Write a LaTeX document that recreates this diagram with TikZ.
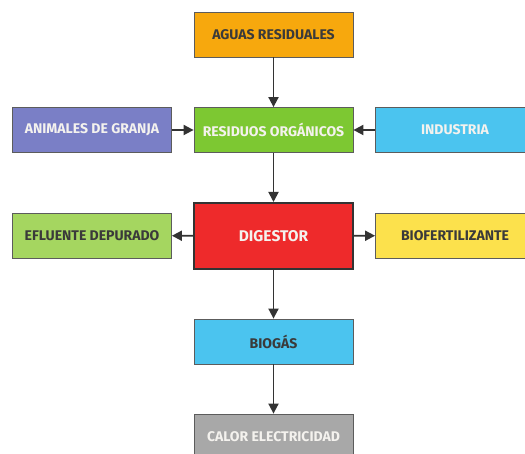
\documentclass[tikz,border=0pt]{standalone}
\usepackage{fontspec}
\setmainfont{Fira Sans}
\usetikzlibrary{arrows.meta}
\definecolor{cOrange}{HTML}{F7A80D}
\definecolor{cGreen}{HTML}{7DC832}
\definecolor{cViolet}{HTML}{7A7FC6}
\definecolor{cSky}{HTML}{4BC4EF}
\definecolor{cLime}{HTML}{A5D660}
\definecolor{cYellow}{HTML}{FCE14C}
\definecolor{cRed}{HTML}{EE2A2B}
\definecolor{cGrey}{HTML}{A8A8A8}
\definecolor{cLine}{HTML}{333333}
\definecolor{cDarkText}{HTML}{3A3A3A}
\definecolor{cLightText}{HTML}{F4F2EE}
\tikzset{
  box/.style={draw=cLine!80, line width=0.8pt, minimum width=159pt, minimum height=45pt,
    inner sep=0pt, font=\bfseries\fontsize{14}{16}\selectfont},
  darktext/.style={text=cDarkText},
  lighttext/.style={text=cLightText},
  flow/.style={draw=cLine, line width=1.8pt, -{Triangle[length=10pt,width=10pt]}},
}
\begin{document}
\begin{tikzpicture}[x=1pt,y=-1pt]
\useasboundingbox (0,0) rectangle (525,454);
\clip (0,0) rectangle (525,454);
% central column
\node[box, fill=cOrange, darktext] (aguas) at (273.5,34.5) {AGUAS RESIDUALES};
\node[box, fill=cGreen, lighttext] (residuos) at (273.5,130) {RESIDUOS ORGÁNICOS};
\node[box, fill=cRed, lighttext, draw=cLine, line width=2pt, minimum width=159pt, minimum height=66pt,
  font=\bfseries\fontsize{15.5}{18}\selectfont] (digestor) at (273.5,236) {DIGESTOR};
\node[box, fill=cSky, darktext] (biogas) at (273.5,341.5) {BIOGÁS};
\node[box, fill=cGrey, lighttext] (calor) at (273.5,436.5) {CALOR ELECTRICIDAD};
% side boxes
\node[box, fill=cViolet, lighttext] (animales) at (92,130) {ANIMALES DE GRANJA};
\node[box, fill=cSky, lighttext] (industria) at (455,130) {INDUSTRIA};
\node[box, fill=cLime, darktext] (efluente) at (92,235.5) {EFLUENTE DEPURADO};
\node[box, fill=cYellow, darktext] (biofert) at (455,235.5) {BIOFERTILIZANTE};
% connectors
\draw[flow] (aguas) -- (residuos);
\draw[flow] (animales) -- (residuos);
\draw[flow] (industria) -- (residuos);
\draw[flow] (residuos) -- (digestor);
\draw[flow] (digestor) -- (efluente);
\draw[flow] (digestor) -- (biofert);
\draw[flow] (digestor) -- (biogas);
\draw[flow] (biogas) -- (calor);
\end{tikzpicture}
\end{document}
